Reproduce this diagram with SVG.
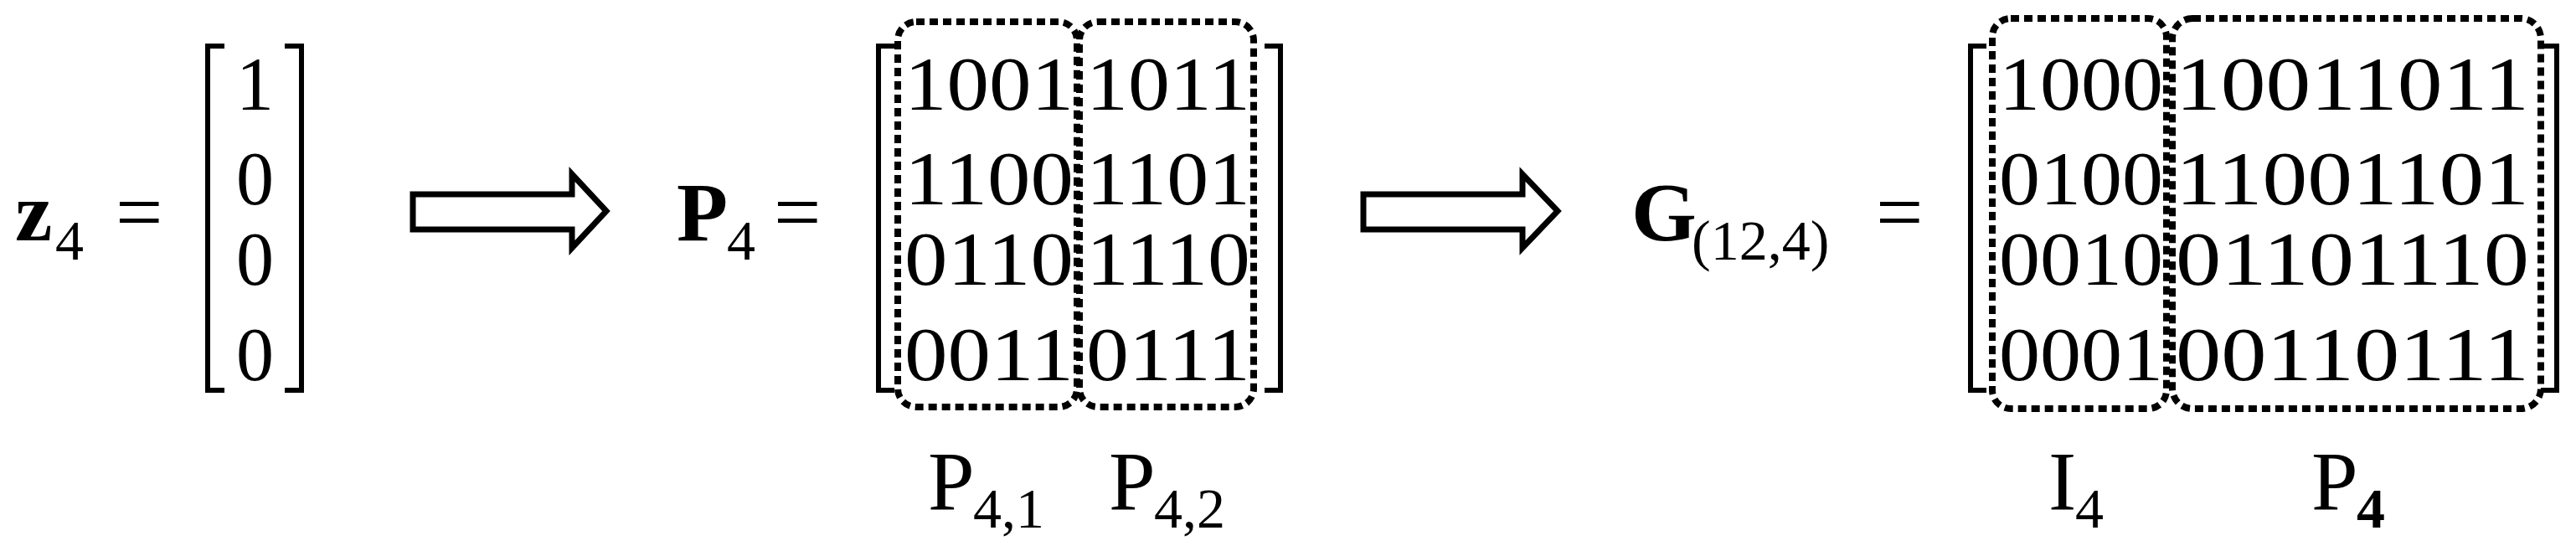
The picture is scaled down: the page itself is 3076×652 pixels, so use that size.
<svg xmlns="http://www.w3.org/2000/svg" width="3076" height="652" viewBox="0 0 3076 652">
<style>
text{font-family:"Liberation Serif","Times New Roman",serif;fill:#000}
.d{font-size:90px}
.big{font-size:100px}
.sub{font-size:68px}
.b{font-weight:bold}
.br{fill:none;stroke:#000;stroke-width:6}
.dot{fill:none;stroke:#000;stroke-width:8;stroke-dasharray:10 6}
.ar{fill:#fff;stroke:#000;stroke-width:7;stroke-linejoin:miter}
</style>
<g id="z4">
<text x="18" y="287" class="big b">z</text><text x="66" y="310" class="sub">4</text>
<text x="138" y="287" class="big">=</text>
<path class="br" d="M268,55 H248 V466 H268 M340,55 H360 V466 H340"/>
<text x="282" y="131" class="d">1</text>
<text x="282" y="244" class="d">0</text>
<text x="282" y="340" class="d">0</text>
<text x="282" y="454" class="d">0</text>
</g>
<g id="connectors">
<polygon class="ar" points="493,232 683,232 683,208 724,252 683,296 683,274 493,274"/>
<polygon class="ar" points="1628,232 1818,232 1818,208 1860,252 1818,296 1818,274 1628,274"/>
</g>
<g id="P4">
<text x="808" y="287" class="big b">P</text><text x="868" y="310" class="sub">4</text>
<text x="924" y="287" class="big">=</text>
<path class="br" d="M1068,55 H1049 V466 H1068 M1510,55 H1529 V466 H1510"/>
<g class="d">
<text x="1080" y="131" textLength="202" lengthAdjust="spacingAndGlyphs">1001</text>
<text x="1297" y="131" textLength="196" lengthAdjust="spacingAndGlyphs">1011</text>
<text x="1080" y="244" textLength="202" lengthAdjust="spacingAndGlyphs">1100</text>
<text x="1297" y="244" textLength="196" lengthAdjust="spacingAndGlyphs">1101</text>
<text x="1080" y="340" textLength="202" lengthAdjust="spacingAndGlyphs">0110</text>
<text x="1297" y="340" textLength="196" lengthAdjust="spacingAndGlyphs">1110</text>
<text x="1080" y="454" textLength="202" lengthAdjust="spacingAndGlyphs">0011</text>
<text x="1297" y="454" textLength="196" lengthAdjust="spacingAndGlyphs">0111</text>
</g>
<rect class="dot" x="1072" y="26" width="214" height="460" rx="22" ry="22"/>
<rect class="dot" x="1289" y="26" width="208" height="460" rx="22" ry="22"/>
<text x="1108" y="608" class="big">P</text><text x="1162" y="630" class="sub">4,1</text>
<text x="1324" y="608" class="big">P</text><text x="1378" y="630" class="sub">4,2</text>
</g>
<g id="G">
<text x="1948" y="287" class="big b">G</text><text x="2020" y="310" class="sub">(12,4)</text>
<text x="2240" y="287" class="big">=</text>
<path class="br" d="M2372,55 H2353 V466 H2372 M3034,55 H3053 V466 H3034"/>
<g class="d">
<text x="2387" y="131" textLength="196" lengthAdjust="spacingAndGlyphs">1000</text>
<text x="2598" y="131" textLength="422" lengthAdjust="spacingAndGlyphs">10011011</text>
<text x="2387" y="244" textLength="196" lengthAdjust="spacingAndGlyphs">0100</text>
<text x="2598" y="244" textLength="422" lengthAdjust="spacingAndGlyphs">11001101</text>
<text x="2387" y="340" textLength="196" lengthAdjust="spacingAndGlyphs">0010</text>
<text x="2598" y="340" textLength="422" lengthAdjust="spacingAndGlyphs">01101110</text>
<text x="2387" y="454" textLength="196" lengthAdjust="spacingAndGlyphs">0001</text>
<text x="2598" y="454" textLength="422" lengthAdjust="spacingAndGlyphs">00110111</text>
</g>
<rect class="dot" x="2379" y="22" width="208" height="466" rx="22" ry="22"/>
<rect class="dot" x="2594" y="22" width="440" height="466" rx="24" ry="24"/>
<text x="2446" y="608" class="big">I</text><text x="2478" y="630" class="sub">4</text>
<text x="2760" y="608" class="big">P</text><text x="2814" y="630" class="sub b">4</text>
</g>
</svg>
